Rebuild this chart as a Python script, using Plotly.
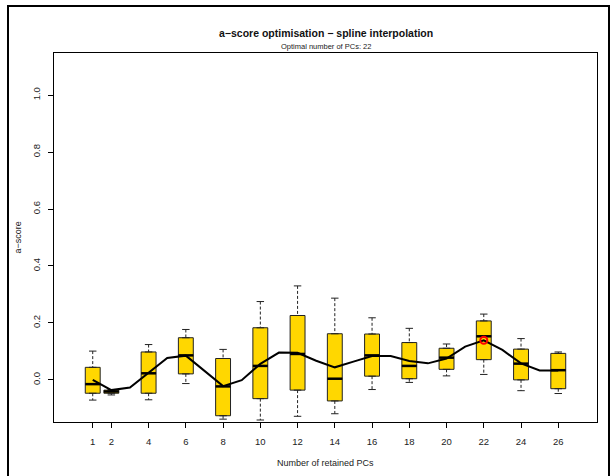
import plotly.graph_objects as go

# ---------------- data ----------------
pcs = [1, 2, 4, 6, 8, 10, 12, 14, 16, 18, 20, 22, 24, 26]
whisker_hi = [0.101, -0.034, 0.124, 0.177, 0.107, 0.275, 0.330, 0.287, 0.218, 0.181, 0.126, 0.231, 0.145, 0.098]
q3 = [0.044, -0.036, 0.098, 0.148, 0.075, 0.183, 0.226, 0.162, 0.161, 0.131, 0.111, 0.207, 0.108, 0.093]
median = [-0.015, -0.041, 0.023, 0.086, -0.023, 0.049, 0.091, 0.004, 0.086, 0.049, 0.078, 0.153, 0.057, 0.034]
q1 = [-0.047, -0.047, -0.047, 0.021, -0.126, -0.066, -0.036, -0.074, 0.013, 0.004, 0.037, 0.071, 0.000, -0.031]
whisker_lo = [-0.071, -0.053, -0.070, -0.013, -0.138, -0.141, -0.128, -0.119, -0.034, -0.009, 0.014, 0.019, -0.038, -0.048]

spline_x = list(range(1, 27))
spline_y = [0.000, -0.036, -0.027, 0.025, 0.077, 0.085, 0.032, -0.022, -0.001, 0.056,
            0.096, 0.095, 0.067, 0.044, 0.064, 0.084, 0.084, 0.066, 0.058, 0.075,
            0.117, 0.139, 0.105, 0.058, 0.033, 0.033]

optimal_pc = 22
optimal_score = 0.139

y_ticks = [0.0, 0.2, 0.4, 0.6, 0.8, 1.0]
y_ticklabels = ["0.0", "0.2", "0.4", "0.6", "0.8", "1.0"]

title = "a\u2212score optimisation \u2212 spline interpolation"
subtitle = "Optimal number of PCs: 22"
x_title = "Number of retained PCs"
y_title = "a\u2212score"

# ---------------- style ----------------
FONT = "Liberation Sans, Arial, Helvetica, sans-serif"
BOX_W = 0.8
CAP_HALF = 0.2
GOLD = "#FFD700"

fig = go.Figure()

# box bodies
fig.add_trace(go.Box(
    x=pcs, q1=q1, median=median, q3=q3, lowerfence=q1, upperfence=q3,
    width=BOX_W, fillcolor=GOLD, line=dict(color="#222222", width=1),
    boxpoints=False, showlegend=False, hoverinfo="skip",
))

# dashed whiskers
wx, wy = [], []
for x, lo, a, b, hi in zip(pcs, whisker_lo, q1, q3, whisker_hi):
    wx += [x, x, None, x, x, None]
    wy += [hi, b, None, a, lo, None]
fig.add_trace(go.Scatter(x=wx, y=wy, mode="lines",
                         line=dict(color="#222222", width=1, dash="3px,2px"),
                         showlegend=False, hoverinfo="skip"))

# whisker caps
cx, cy = [], []
for x, lo, hi in zip(pcs, whisker_lo, whisker_hi):
    cx += [x - CAP_HALF, x + CAP_HALF, None, x - CAP_HALF, x + CAP_HALF, None]
    cy += [hi, hi, None, lo, lo, None]
fig.add_trace(go.Scatter(x=cx, y=cy, mode="lines",
                         line=dict(color="#222222", width=1),
                         showlegend=False, hoverinfo="skip"))

# thick medians
mx, my = [], []
for x, m in zip(pcs, median):
    mx += [x - BOX_W / 2, x + BOX_W / 2, None]
    my += [m, m, None]
fig.add_trace(go.Scatter(x=mx, y=my, mode="lines",
                         line=dict(color="black", width=2.5),
                         showlegend=False, hoverinfo="skip"))

# spline line
fig.add_trace(go.Scatter(x=spline_x, y=spline_y, mode="lines",
                         line=dict(color="black", width=2),
                         showlegend=False, hoverinfo="skip"))

# optimal point
fig.add_trace(go.Scatter(x=[optimal_pc], y=[optimal_score], mode="markers",
                         marker=dict(symbol="circle-open", color="red", size=7,
                                     line=dict(color="red", width=2)),
                         showlegend=False, hoverinfo="skip"))

W, H = 611, 476
L, R, T, B = 54, 14, 53, 54
pw, ph = W - L - R, H - T - B

def px_x(p):
    return (p - L) / pw

def px_y(p):
    return (H - B - p) / ph

axis_common = dict(
    showgrid=False, zeroline=False, showline=True, mirror=True,
    linecolor="black", linewidth=1.2, ticks="outside", ticklen=5,
    tickcolor="black", tickwidth=1,
    tickfont=dict(family=FONT, size=9.5, color="#222222"),
)

fig.update_layout(
    width=W, height=H,
    margin=dict(l=L, r=R, t=T, b=B, pad=0),
    paper_bgcolor="white", plot_bgcolor="white",
    xaxis=dict(range=[-1.08, 28.08], tickmode="array", tickvals=pcs,
               ticktext=[str(p) for p in pcs], ticklabelstandoff=5, **axis_common),
    yaxis=dict(range=[-0.148, 1.148], tickmode="array", tickvals=y_ticks,
               ticktext=y_ticklabels, tickangle=-90, ticklabelstandoff=4, **axis_common),
    annotations=[
        dict(text="<b>" + title + "</b>", xref="paper", yref="paper",
             x=0.5, y=px_y(33), xanchor="center", yanchor="middle", showarrow=False,
             font=dict(family=FONT, size=10.5, color="#111111")),
        dict(text=subtitle, xref="paper", yref="paper",
             x=0.5, y=px_y(47), xanchor="center", yanchor="middle", showarrow=False,
             font=dict(family=FONT, size=7.5, color="#222222")),
        dict(text=x_title, xref="paper", yref="paper",
             x=0.5, y=px_y(463), xanchor="center", yanchor="middle", showarrow=False,
             font=dict(family=FONT, size=9, color="#222222")),
        dict(text=y_title, xref="paper", yref="paper",
             x=px_x(17), y=0.5, xanchor="center", yanchor="middle", showarrow=False,
             textangle=-90, font=dict(family=FONT, size=9, color="#222222")),
    ],
    shapes=[
        dict(type="rect", xref="paper", yref="paper",
             x0=px_x(8), x1=px_x(609), y0=px_y(480), y1=px_y(6),
             line=dict(color="black", width=2), fillcolor="rgba(0,0,0,0)", layer="above"),
    ],
)

fig.write_html("out.html")
